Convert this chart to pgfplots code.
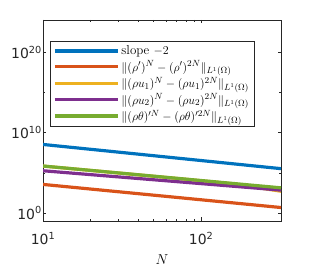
\documentclass[border=0pt]{standalone}
\usepackage{fontspec}
\usepackage{pgfplots}
\pgfplotsset{compat=1.18}
\newfontfamily\tickfont{DejaVu Sans}
\definecolor{mblue}{rgb}{0,0.447,0.741}
\definecolor{morange}{rgb}{0.85,0.325,0.098}
\definecolor{myellow}{rgb}{0.929,0.694,0.125}
\definecolor{mpurple}{rgb}{0.494,0.184,0.556}
\definecolor{mgreen}{rgb}{0.466,0.674,0.188}
\newcommand{\tl}[2]{{\tickfont #1\textsuperscript{#2}}}
\begin{document}
\begin{tikzpicture}
\begin{axis}[
  scale only axis, width=238bp, height=201bp,
  xmode=log, ymode=log,
  xmin=10, xmax=320, ymin=1e-1, ymax=1e24,
  xtick={10,100}, xticklabels={\tl{10}{1},\tl{10}{2}},
  ytick={1,1e10,1e20}, yticklabels={\tl{10}{0},\tl{10}{10},\tl{10}{20}},
  minor ytick={1e5,1e15},
  axis line style={black!85, line width=0.6pt},
  tick style={black!85, line width=0.5pt},
  major tick length=3.5bp, minor tick length=2bp,
  tick label style={font=\fontsize{14}{16}\selectfont, text=black!85},
  yticklabel style={inner sep=0pt, xshift=-1bp},
  xticklabel style={inner sep=0pt, yshift=-11bp},
  xlabel={$N$},
  xlabel style={font=\fontsize{15}{17}\selectfont, inner sep=0pt, yshift=-10bp},
  legend style={at={(rel axis cs:0.0294,0.8955)}, anchor=north west,
    draw=black!85, line width=0.6pt, fill=white,
    font=\fontsize{13}{15}\selectfont, inner xsep=3bp, inner ysep=2.5bp,
    row sep=0.5bp},
  legend cell align=left,
  legend image code/.code={\draw[#1, line width=3.2pt] (0bp,0bp) -- (63bp,0bp);},
  every axis plot/.append style={line width=3.2pt},
]
\addplot[mblue] coordinates {(10,3.311e8) (20,8.28e7) (40,2.07e7) (80,5.18e6) (160,1.294e6) (320,3.24e5)};
\addlegendentry{slope $-2$}
\addplot[morange] coordinates {(10,3.55e3) (20,944) (40,251) (80,66.8) (160,17.8) (320,4.73)};
\addlegendentry{$\|(\rho')^N-(\rho')^{2N}\|_{L^1(\Omega)}$}
\addplot[myellow] coordinates {(10,6.76e5) (20,1.95e5) (40,5.50e4) (80,1.55e4) (160,4.17e3) (320,5.01e2)};
\addlegendentry{$\|(\rho u_1)^N-(\rho u_1)^{2N}\|_{L^1(\Omega)}$}
\addplot[mpurple] coordinates {(10,1.778e5) (20,5.86e4) (40,1.93e4) (80,6.37e3) (160,2.10e3) (320,6.92e2)};
\addlegendentry{$\|(\rho u_2)^N-(\rho u_2)^{2N}\|_{L^1(\Omega)}$}
\addplot[mgreen] coordinates {(10,6.92e5) (20,1.98e5) (40,5.68e4) (80,1.626e4) (160,4.66e3) (320,1.334e3)};
\addlegendentry{$\|(\rho\theta)'^N-(\rho\theta)'^{2N}\|_{L^1(\Omega)}$}
\end{axis}
\pgfresetboundingbox
\path (current axis.south west) ++(-43bp,-51bp) rectangle ++(309bp,272bp);
\end{tikzpicture}
\end{document}
